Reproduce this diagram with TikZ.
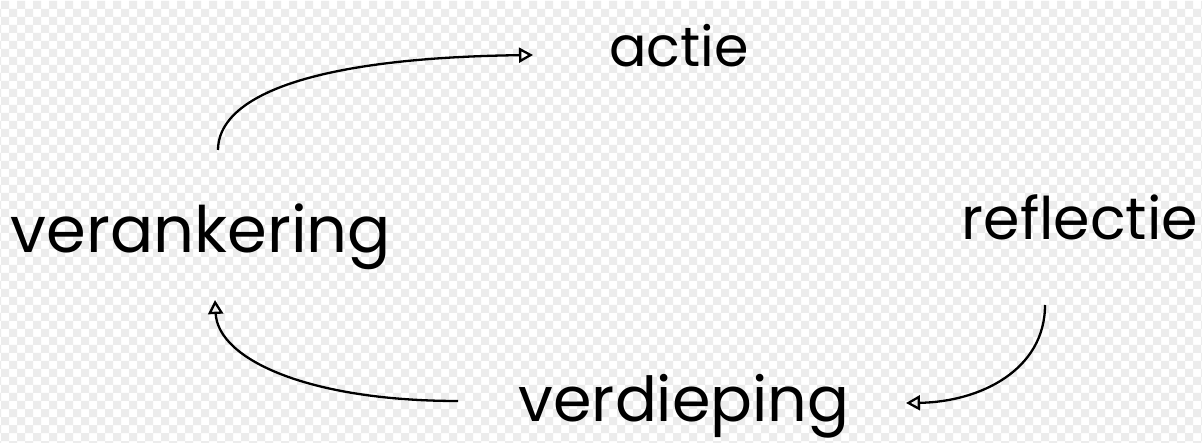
\documentclass[tikz,border=0pt]{standalone}
\usepackage{fontspec}
\setmainfont{Poppins}
\usetikzlibrary{arrows.meta}
\definecolor{checkgray}{HTML}{ECECEC}
\tikzset{
  word/.style={anchor=base, inner sep=0pt, font=\fontsize{#1}{#1}\selectfont},
  cyc/.style={line width=2.3pt, -{Triangle[open, length=14pt, width=15pt, line width=2.3pt]}}
}
\begin{document}
\begin{tikzpicture}[x=1pt, y=-1pt]
\useasboundingbox (0,0) rectangle (1202,443);
\fill[white] (0,0) rectangle (1202,443);
\fill[checkgray] \foreach \j [evaluate=\j as \off using {int(mod(\j,2)*8)}] in {0,...,55} {
  \foreach \i in {-1,...,75} { (\i*16+1+\off,\j*8+1) rectangle ++(8,8) } };
\node[word=55.5] (actie) at (679,67) {actie};
\node[word=64] (veranker) at (201,253) {verankering};
\node[word=58.7] (reflectie) at (1080,240) {reflectie};
\node[word=62] (verdieping) at (684,421) {verdieping};
\coordinate (a1s) at (218,150);
\coordinate (a1e) at (533,55);
\coordinate (a2s) at (458,401);
\coordinate (a2e) at (215,300);
\coordinate (a3s) at (1045,305);
\coordinate (a3e) at (906,403);
\draw[cyc] (a1s) .. controls (218,100) and (300,58) .. (a1e);
\draw[cyc] (a2s) .. controls (310,401) and (218,360) .. (a2e);
\draw[cyc] (a3s) .. controls (1045,370) and (980,402) .. (a3e);
\end{tikzpicture}
\end{document}
